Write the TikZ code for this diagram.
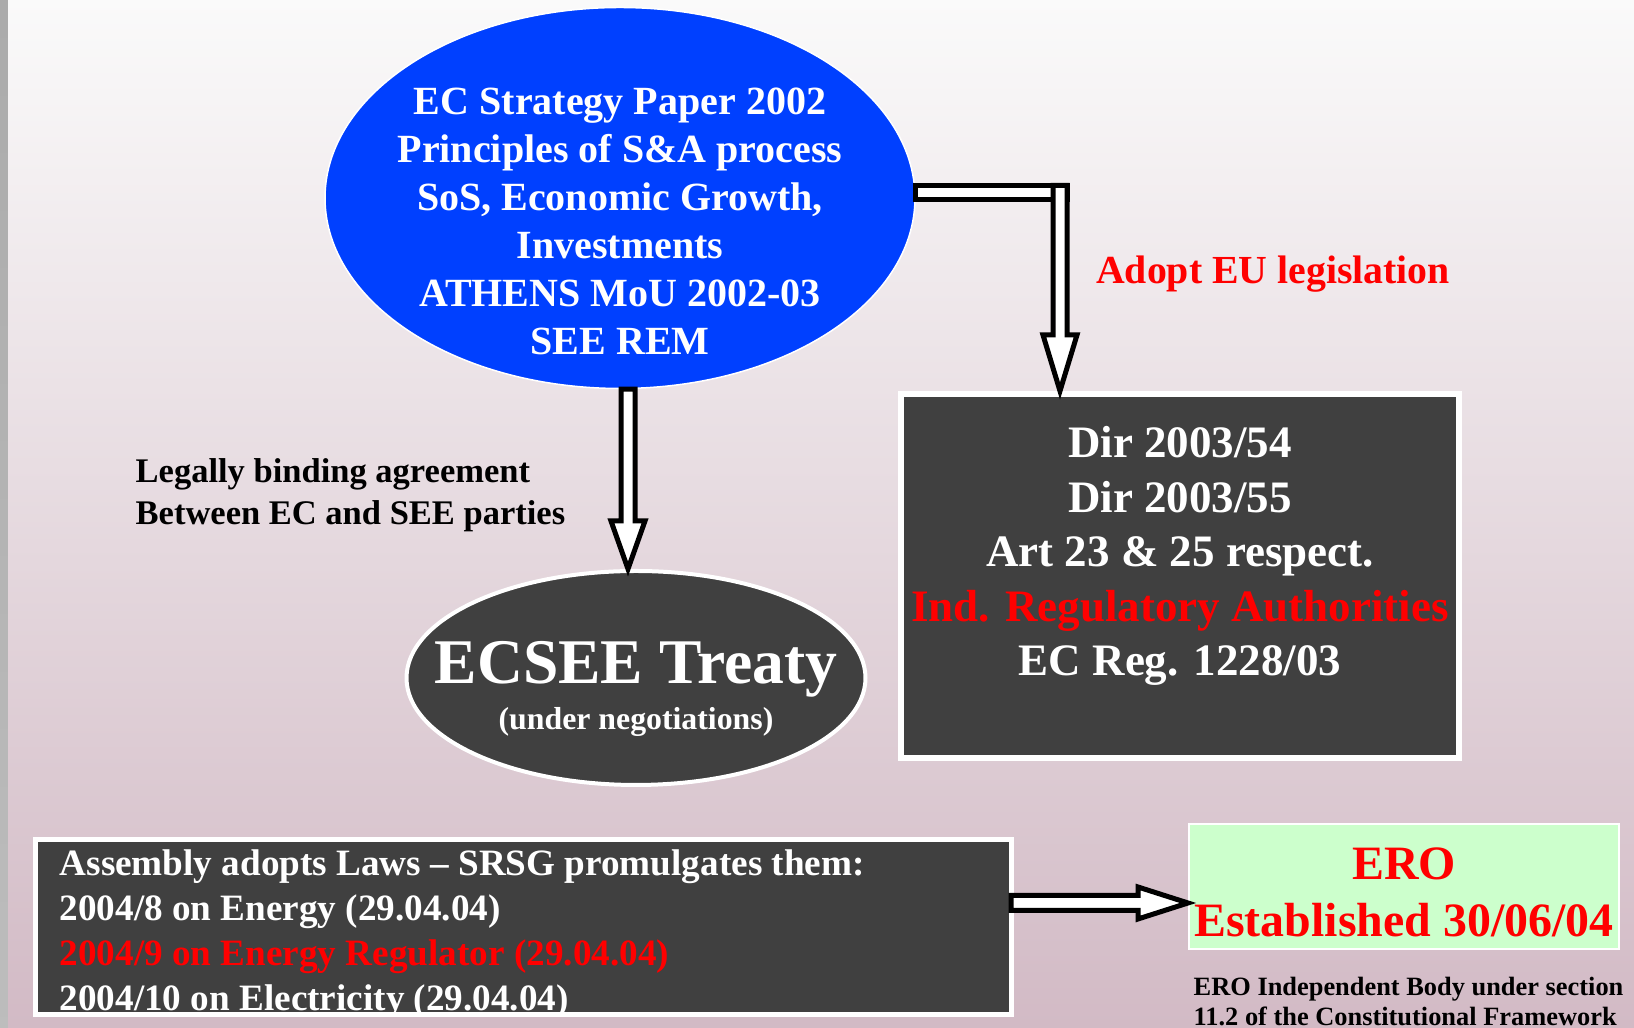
\documentclass[tikz,border=0pt]{standalone}
\usepackage{fontspec}
\setmainfont{Liberation Serif}
\usetikzlibrary{shapes.geometric, calc, positioning}

\definecolor{ecblue}{RGB}{0,64,255}
\definecolor{boxgray}{RGB}{64,64,64}
\definecolor{erogreen}{RGB}{204,255,204}
\definecolor{bgtop}{RGB}{250,250,250}
\definecolor{bgmid}{RGB}{236,227,231}
\definecolor{bgbot}{RGB}{210,186,197}

\newcommand{\fsz}[2]{\fontsize{#1}{#2}\selectfont\bfseries}

\tikzstyle{bubble} = [ellipse, inner sep=0pt]
\tikzstyle{darkbox} = [rectangle, draw=white, fill=boxgray, inner sep=0pt]
\tikzstyle{hollow} = [draw=black, fill=white, line width=0.5mm, line join=miter]
\tikzstyle{flush} = [anchor=west, align=left, inner sep=0pt]
\tikzset{
  downblock/.style={to path={
    ($(\tikztostart)+(-7,0)$) -- ($(\tikztotarget)+(-7,-#1)$) -- ($(\tikztotarget)+(-17,-#1)$)
    -- (\tikztotarget) -- ($(\tikztotarget)+(17,-#1)$) -- ($(\tikztotarget)+(7,-#1)$)
    -- ($(\tikztostart)+(7,0)$) -- cycle}},
  downblock/.default=48,
  rightblock/.style={to path={
    ($(\tikztostart)+(0,-7.5)$) -- ($(\tikztotarget)+(-50,-7.5)$) -- ($(\tikztotarget)+(-50,-16)$)
    -- (\tikztotarget) -- ($(\tikztotarget)+(-50,16)$) -- ($(\tikztotarget)+(-50,7.5)$)
    -- ($(\tikztostart)+(0,7.5)$) -- cycle}}
}

\begin{document}
\begin{tikzpicture}[x=0.1mm, y=-0.1mm]

\useasboundingbox (0,0) rectangle (1634,1028);
% Hintergrund
\shade[top color=bgtop, middle color=bgmid, bottom color=bgbot] (0,0) rectangle (1634,1028);
\shade[top color=black!33, bottom color=black!26] (0,0) rectangle (8,1028);

% Knoten
\node (blue) [bubble, fill=ecblue, draw=white, line width=0.15mm, minimum width=59cm/10, minimum height=38.1mm] at (620,198) {};
\node (bluetext) [align=center, text=white, font=\fsz{11.38pt}{13.66pt}] at (620,221)
  {EC Strategy Paper 2002\\Principles of S\&A process\\SoS, Economic Growth,\\Investments\\ATHENS MoU 2002-03\\SEE REM};

\node (treaty) [bubble, fill=boxgray, draw=white, line width=0.4mm, minimum width=45.9mm, minimum height=21.4mm] at (636,678) {};
\node (treatytitle) [text=white, font=\fsz{18.1pt}{20pt}] at (636,669) {ECSEE Treaty};
\node (treatysub) [text=white, font=\fsz{9.05pt}{11pt}] at (636,722) {(under negotiations)};

\node (rules) [darkbox, line width=0.6mm, minimum width=55.8mm, minimum height=36.4mm] at (1180,576) {};
\node (rulestext) [align=center, text=white, font=\fsz{12.8pt}{15.5pt}] at (1180,556)
  {Dir 2003/54\\Dir 2003/55\\Art 23 \& 25 respect.\\\textcolor{red}{Ind. Regulatory Authorities}\\EC Reg. 1228/03};

\node (laws) [darkbox, draw=none, minimum width=97.4mm, minimum height=17.3mm] at (523.5,927) {};
\begin{scope}
\clip (laws.south west) rectangle (laws.north east);
\node (lawstext) [flush, text=white, font=\fsz{10.58pt}{12.8pt}] at (59,934)
  {Assembly adopts Laws -- SRSG promulgates them:\\2004/8 on Energy (29.04.04)\\\textcolor{red}{2004/9 on Energy Regulator (29.04.04)}\\2004/10 on Electricity (29.04.04)};
\end{scope}
\draw[white, line width=0.5mm] (laws.south west) rectangle (laws.north east);

\node (ero) [rectangle, fill=erogreen, draw=white, line width=0.2mm, minimum width=43cm/10, minimum height=12.5mm] at (1404,886.5) {};
\node (erotext) [align=center, text=red, font=\fsz{13.63pt}{16.2pt}] at (1404,892) {ERO\\Established 30/06/04};
\node (eronote) [flush, font=\fsz{7.51pt}{8.54pt}] at (1193,1002)
  {ERO Independent Body under section\\11.2 of the Constitutional Framework};

% Beschriftungen
\node (legal) [flush, font=\fsz{9.82pt}{11.95pt}] at (135,495)
  {Legally binding agreement\\Between EC and SEE parties};
\node (adopt) [text=red, font=\fsz{11.32pt}{13.6pt}] at (1273,274) {Adopt EU legislation};

% Pfeile
\coordinate (bindtip) at ($(treaty.north)+(-8,0)$);
\draw[hollow] (bindtip |- blue.south) to[downblock] (bindtip);

\coordinate (elbow) at (1060,192.5);
\draw[hollow] ($(blue.east |- elbow)+(0,-7)$) rectangle ($(elbow)+(7,7)$);
\draw[hollow] ($(elbow)+(0,-7)$) to[downblock=56] (elbow |- rules.north);

\draw[hollow] ($(laws.east)+(0,-24)$) to[rightblock] ($(ero.west)+(0,16.5)$);

\end{tikzpicture}
\end{document}
